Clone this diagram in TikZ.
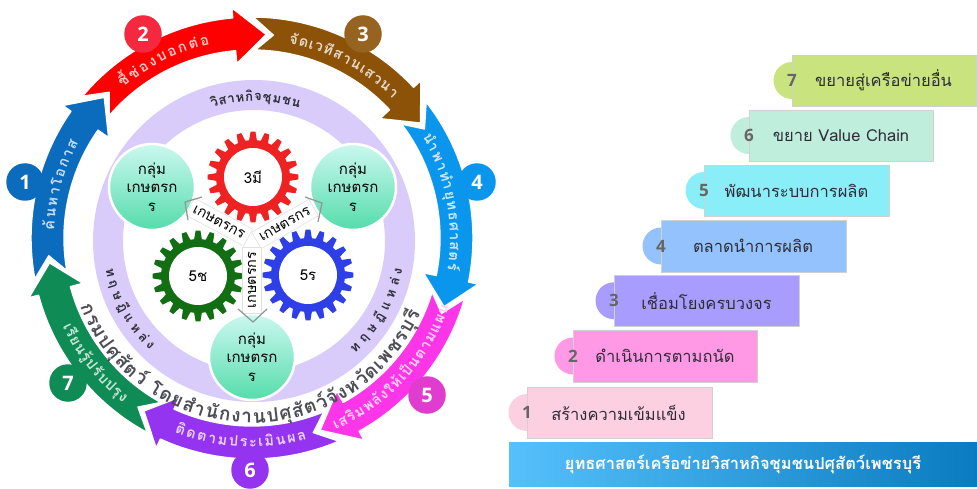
\documentclass[tikz,border=0pt]{standalone}
\usepackage{fontspec}
\setmainfont[Script=Thai]{Loma}
\newfontfamily\thai[Script=Thai]{Loma}
\newfontfamily\numf{Open Sans}
\newdimen\tw \newdimen\cum \newdimen\cw
\definecolor{lav}{HTML}{D9CCFA}
\definecolor{aone}{HTML}{0B6BBD}
\definecolor{atwo}{HTML}{FF0000}
\definecolor{athree}{HTML}{8B5208}
\definecolor{afour}{HTML}{0A96EC}
\definecolor{afive}{HTML}{FD35E8}
\definecolor{asix}{HTML}{9434F0}
\definecolor{aseven}{HTML}{0F8C55}
\definecolor{gred}{HTML}{EE2222}
\definecolor{ggreen}{HTML}{126E12}
\definecolor{gblue}{HTML}{2F3FE8}
\definecolor{darktx}{HTML}{2E2E38}
\definecolor{numgray}{HTML}{666666}
\definecolor{HTMLbtwo}{HTML}{F4283F}
\definecolor{HTMLbfive}{HTML}{E13CD0}
\definecolor{ctop}{HTML}{CBF8F0}
\definecolor{cbot}{HTML}{55DCAB}
\definecolor{sone}{HTML}{FCD0E0}
\definecolor{stwo}{HTML}{FF99E6}
\definecolor{sthree}{HTML}{A99CFF}
\definecolor{sfour}{HTML}{94C2FC}
\definecolor{sfive}{HTML}{8AEEF8}
\definecolor{ssix}{HTML}{C0EEDD}
\definecolor{sseven}{HTML}{C9E37F}
\definecolor{barl}{HTML}{55C0FC}
\definecolor{barr}{HTML}{0A7BC0}
\tikzset{
 badge/.style={circle,inner sep=0,minimum size=37.5,text=white,font=\numf\bfseries\fontsize{20}{20}\selectfont},
 groupc/.style={circle,inner sep=0,minimum size=86,top color=ctop,bottom color=cbot,draw=white,line width=2.5,align=center,font=\fontsize{15}{18.5}\selectfont,text=black},
 hole/.style={circle,fill=white,inner sep=0,minimum size=58,font=\fontsize{15}{15}\selectfont,text=black},
 strip/.style={fill=white,draw=black!12,line width=.6,inner sep=0,minimum height=19,font=\fontsize{14.5}{14.5}\selectfont,text=black},
 chev/.style={draw=black!42,line width=1.2},
 stepbox/.style={inner sep=0,draw=black!18,line width=.6},
 steptab/.style={circle,inner sep=0,minimum size=37},
 stepnum/.style={inner sep=0,text=numgray,font=\numf\bfseries\fontsize{17}{17}\selectfont},
 steptx/.style={inner sep=0,text=darktx,font=\fontsize{16.5}{16.5}\selectfont},
}
\newcommand\ringarrow[4]{%
 \pgfmathsetmacro\ta{#2+3.7}\pgfmathsetmacro\tb{#2+3}\pgfmathsetmacro\tn{#2-2}%
 \filldraw[fill=#1,draw=white,line width=1.4,line join=round]
  (\ta:221) arc[start angle=\ta,end angle=#3,radius=221] -- (#3:231) -- (#4:204) -- (#3:175) -- (#3:188)
  arc[start angle=#3,end angle=\tb,radius=188] -- (\tn:204) -- cycle;}
\newcommand\arctext[6]{%
 \global\tw=0pt
 \foreach \cl in {#6}{\setbox0=\hbox{\pgfinterruptpicture#4\cl\endpgfinterruptpicture}\global\advance\tw by\wd0\relax}%
 \global\cum=0pt
 \foreach \cl in {#6}{%
  \setbox0=\hbox{\pgfinterruptpicture#4\cl\endpgfinterruptpicture}\cw=\wd0\relax
  \pgfmathsetmacro\fr{(\cum+0.5*\cw)/\tw}%
  \pgfmathsetmacro\ang{#2+(#3-#2)*\fr}%
  \node[anchor=base,inner sep=0,rotate=\ang#5] at (\ang:#1) {#4\cl};
  \global\advance\cum by\cw\relax
 }}
\newcommand\gearshape[4]{% name,x,y,colour
 \begin{scope}[shift={(#2,#3)}]
  \fill[#4] (-6:37) \foreach \i in {0,...,19}{ -- ({\i*18-6}:37) -- ({\i*18-3}:45.5) -- ({\i*18+3}:45.5) -- ({\i*18+6}:37)} -- cycle;
 \end{scope}}
\newcommand\stepbar[9]{% name,x1,y1,x2,y2,colour,num,textx,text
 \pgfmathsetmacro\bw{#4-#2}\pgfmathsetmacro\bh{#5-#3}\pgfmathsetmacro\bx{(#2+#4)/2}\pgfmathsetmacro\by{(#3+#5)/2}%
 \node[steptab,fill=#6] (#1t) at (#2,\by) {};
 \node[stepbox,fill=#6,minimum width=\bw,minimum height=\bh] (#1) at (\bx,\by) {};
 \node[stepnum] (#1n) at (#2,\by) {#7};
 \node[steptx] (#1x) at (#8,\by) {#9};}
\begin{document}
\begin{tikzpicture}[x=1pt,y=1pt,yscale=-1]
\useasboundingbox (0,0) rectangle (977,489);
\fill[white] (0,0) rectangle (977,489);
% lavender ring
\fill[lav,even odd rule] (254,241) circle (161) (254,241) circle (131);
% arrows
\begin{scope}[shift={(252,238)},yscale=-1]
 \ringarrow{aone}{187}{145}{136.4}
 \ringarrow{atwo}{136.4}{95}{86}
 \ringarrow{athree}{86}{43}{34.3}
 \ringarrow{afour}{34.3}{-11.5}{-19.7}
 \ringarrow{afive}{-19.7}{-61}{-70.5}
 \ringarrow{asix}{-70.5}{-114.5}{-122}
 \ringarrow{aseven}{-122}{-165}{-173}
 \def\lf#1{\bfseries\fontsize{14.5}{14.5}\selectfont\color{white!78!#1}}
 \arctext{198}{178}{151}{\lf{aone}}{-90}{ค้,น,ห,า,โ,อ,ก,า,ส}
 \arctext{198}{131}{102}{\lf{atwo}}{-90}{ชี้,ช่,อ,ง,บ,อ,ก,ต่,อ}
 \arctext{198}{79.5}{44.5}{\lf{athree}}{-90}{จั,ด,เ,ว,ที,ส,า,น,เ,ส,ว,น,า}
 \arctext{198}{31}{-9.5}{\lf{afour}}{-90}{นำ,พ,า,ทำ,ยุ,ท,ธ,ศ,า,ส,ต,ร์}
 \arctext{209}{-66.5}{-19}{\lf{afive}}{+90}{เ,ส,ริ,ม,พ,ลั,ง,ใ,ห้,เ,ป็,น,ต,า,ม,แ,ผ,น}
 \arctext{209}{248}{285.5}{\lf{asix}}{+90}{ติ,ด,ต,า,ม,ป,ร,ะ,เ,มิ,น,ผ,ล}
 \arctext{209}{205}{232}{\lf{aseven}}{+90}{เ,รี,ย,น,รู้,ป,รั,บ,ป,รุ,ง}
\end{scope}
% badges
\node[badge,fill=aone] (b1) at (25,182) {1};
\node[badge,fill=HTMLbtwo] (b2) at (143,34) {2};
\node[badge,fill=athree!90!white] (b3) at (363,34) {3};
\node[badge,fill=afour] (b4) at (477,182) {4};
\node[badge,fill=HTMLbfive] (b5) at (427,395) {5};
\node[badge,fill=asix] (b6) at (250,470) {6};
\node[badge,fill=aseven] (b7) at (68,383) {7};
% ring texts
\begin{scope}[shift={(252,238)},yscale=-1]
 \arctext{185}{201.6}{336}{\bfseries\fontsize{19}{19}\selectfont\color{darktx!85!white}}{+90}{ก,ร,ม,ป,ศุ,สั,ต,ว์,~,โ,ด,ย,สำ,นั,ก,ง,า,น,ป,ศุ,สั,ต,ว์,จั,ง,ห,วั,ด,เ,พ,ช,ร,บุ,รี}
\end{scope}
\begin{scope}[shift={(254,241)},yscale=-1]
 \def\lv{\bfseries\fontsize{13}{13}\selectfont\color{darktx}}
 \arctext{140}{107.6}{71}{\lv}{-90}{วิ,ส,า,ห,กิ,จ,ชุ,ม,ช,น}
 \arctext{151}{190}{227}{\lv}{+90}{ท,ฤ,ษ,ฎี,แ,ห,ล่,ง}
 \arctext{151}{-49}{-10}{\lv}{+90}{ท,ฤ,ษ,ฎี,แ,ห,ล่,ง}
\end{scope}
% gears
\gearshape{gr}{253}{177}{gred}
\gearshape{gg}{198}{276}{ggreen}
\gearshape{gb}{308}{275}{gblue}
\node[hole] (g1) at (253,177) {3มี};
\node[hole] (g2) at (198,276) {5ช};
\node[hole] (g3) at (308,275) {5ร};
% group circles
\node[groupc] (c1) at (152,187) {กลุ่ม\\เกษตรก\\ร};
\node[groupc] (c2) at (353,187) {กลุ่ม\\เกษตรก\\ร};
\node[groupc] (c3) at (252,357) {กลุ่ม\\เกษตรก\\ร};
% strips
\node[strip,rotate=-28,minimum width=66] (s1) at (219,222) {เกษตรกร};
\node[strip,rotate=30,minimum width=66] (s2) at (285,224) {เกษตรกร};
\node[strip,rotate=90,minimum width=66] (s3) at (252,280) {เกษตรกร};
\coordinate (k1a) at (202,197); \coordinate (k1b) at (185,202); \coordinate (k1c) at (188,220);
\coordinate (k2a) at (305,197); \coordinate (k2b) at (322,203); \coordinate (k2c) at (318,222);
\coordinate (k3a) at (238,309); \coordinate (k3b) at (253,322); \coordinate (k3c) at (267,309);
\draw[chev] (k1a) -- (k1b) -- (k1c);
\draw[chev] (k2a) -- (k2b) -- (k2c);
\draw[chev] (k3a) -- (k3b) -- (k3c);
% steps
\stepbar{st1}{527}{387}{712}{438}{sone}{1}{618.5}{สร้างความเข้มแข็ง}
\stepbar{st2}{573}{330}{757}{382}{stwo}{2}{665}{ดำเนินการตามถนัด}
\stepbar{st3}{614}{275}{799}{326.5}{sthree}{3}{706.5}{เชื่อมโยงครบวงจร}
\stepbar{st4}{661}{220}{846}{272}{sfour}{4}{753}{ตลาดนำการผลิต}
\stepbar{st5}{704}{165}{889}{216}{sfive}{5}{796.5}{พัฒนาระบบการผลิต}
\stepbar{st6}{749}{110}{933}{161}{ssix}{6}{841}{ขยาย Value Chain}
\stepbar{st7}{792}{55}{976}{106}{sseven}{7}{883.5}{ขยายสู่เครือข่ายอื่น}
\node[inner sep=0,minimum width=468,minimum height=44,left color=barl,right color=barr,text=white,font=\bfseries\fontsize{16.5}{16.5}\selectfont] (bar) at (743,464) {ยุทธศาสตร์เครือข่ายวิสาหกิจชุมชนปศุสัตว์เพชรบุรี};
\end{tikzpicture}
\end{document}
